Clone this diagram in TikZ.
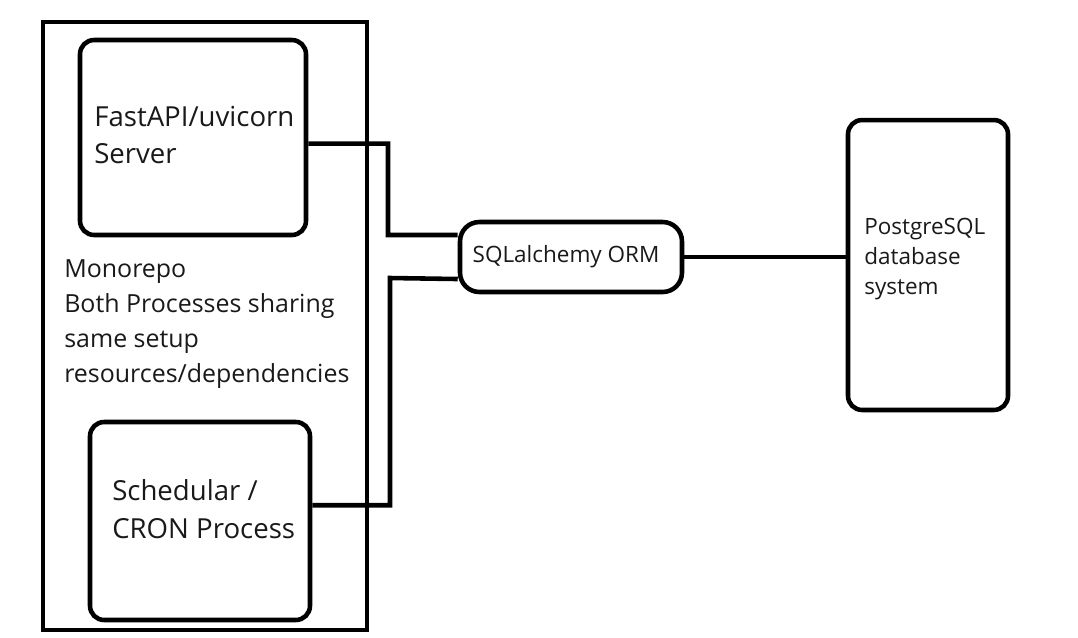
\documentclass[tikz,border=0pt]{standalone}
\usepackage{fontspec}
\setmainfont{Open Sans}
\begin{document}
\begin{tikzpicture}[x=0.02cm, y=-0.02cm, line width=2.6pt,
    box/.style={draw, rounded corners=8pt, inner sep=0pt},
    label/.style={anchor=west, align=left, inner sep=0pt, text=black!90}]
\useasboundingbox (0,0) rectangle (1078,637);
% monorepo frame and its two processes
\node[draw, inner sep=0pt, minimum width=6.48cm, minimum height=12.16cm] (repo) at (205,326) {};
\node[box, minimum width=4.52cm, minimum height=3.9cm] (api) at (193,137.5) {};
\node[box, minimum width=4.4cm, minimum height=3.96cm] (sched) at (200,521) {};
\node[label, font=\fontsize{15.7}{21.5}\selectfont] (apitext) at (92,135) {FastAPI/uvicorn\\Server};
\node[label, font=\fontsize{15.7}{21.5}\selectfont] (schedtext) at (110,509) {Schedular /\\CRON Process};
\node[label, font=\fontsize{14.2}{19.8}\selectfont] (repotext) at (62,324) {Monorepo\\Both Processes sharing\\same setup\\resources/dependencies};
% orm and database
\node[box, rounded corners=11pt, minimum width=4.44cm, minimum height=1.4cm] (sql) at (571,257) {};
\node[label, anchor=center, font=\fontsize{12.8}{15}\selectfont] (sqltext) at (566,257) {SQLalchemy ORM};
\node[box, minimum width=3.2cm, minimum height=5.8cm] (pg) at (928,265) {};
\node[label, font=\fontsize{12.8}{17}\selectfont] (pgtext) at (862,259) {PostgreSQL\\database\\system};
% connections
\draw (api.-3) -| (388,235) -- (sql.169);
\draw (sched.8) -| (390,278) -- (sql.191);
\draw (sql.east) -- (sql.east -| pg.west);
\end{tikzpicture}
\end{document}
